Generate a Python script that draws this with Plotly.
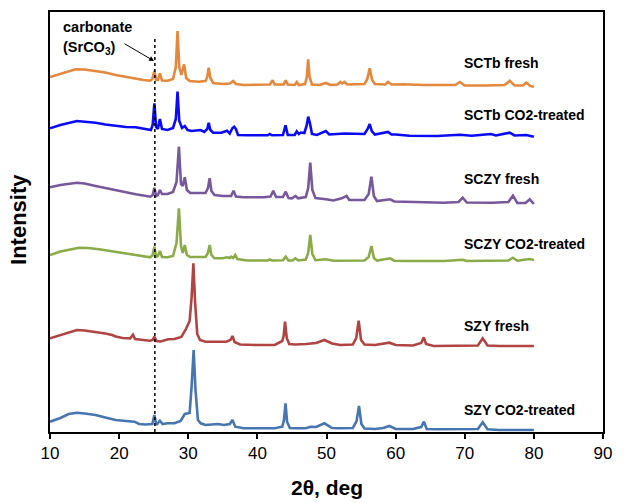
import plotly.graph_objects as go

# ---------------- data (2theta in deg, intensity in arbitrary units above each pattern's baseline) ----
series_names = ["SCTb fresh", "SCTb CO2-treated", "SCZY fresh", "SCZY CO2-treated", "SZY fresh", "SZY CO2-treated"]
series_offsets = [345, 295, 228, 171, 86, 2]
series_colors = ["#E3883C", "#0A0AF5", "#76599A", "#8BAA48", "#B04442", "#4675B0"]

sctb_fresh_2theta = [10.0, 11.5, 13.7, 15.0, 16.6, 18.0, 19.5, 21.0, 22.4, 23.5, 24.5, 24.8, 25.1, 25.35, 25.6, 25.9, 26.2, 27.0, 27.8, 28.2, 28.45, 28.7, 29.0, 29.4, 29.7, 30.2, 31.5, 32.5, 32.75, 32.96, 33.2, 33.6, 35.0, 36.0, 36.5, 36.9, 38.0, 40.0, 41.8, 42.2, 42.5, 43.8, 44.1, 44.4, 45.4, 45.7, 46.0, 46.9, 47.15, 47.35, 47.55, 47.9, 49.0, 49.9, 50.6, 51.6, 52.0, 52.3, 52.6, 53.0, 55.5, 55.9, 56.25, 56.6, 57.0, 58.5, 58.9, 59.4, 61.2, 64.0, 68.6, 69.3, 70.0, 73.0, 75.8, 76.5, 77.2, 78.4, 78.9, 79.5, 80.0]
sctb_fresh_int = [10, 13, 17.7, 17.5, 16.3, 14.5, 12, 10, 8.3, 7, 6.3, 8, 16.3, 7, 7, 13.7, 6.5, 6.3, 8, 20, 56, 20, 12, 22.7, 9, 6, 5.3, 6, 10, 19.3, 9, 4, 3, 3.5, 6, 3, 2, 2, 2.5, 6.7, 2.5, 2.5, 6.7, 2.5, 2, 5, 2, 3, 10, 27.7, 10, 2.5, 2, 4, 2, 2.5, 5, 3.5, 5, 2.5, 3, 8, 18.7, 7, 3, 2.5, 5, 2.5, 2.7, 2, 2, 5, 1.5, 1.5, 2, 6.3, 1.5, 1.5, 4.3, 1, 0.3]

sctb_co2_2theta = [10.0, 11.5, 13.9, 15.0, 16.6, 18.0, 19.5, 21.0, 22.4, 23.5, 24.6, 24.85, 25.1, 25.35, 25.6, 25.9, 26.2, 27.0, 27.8, 28.2, 28.45, 28.7, 29.1, 29.5, 29.9, 30.5, 31.8, 32.3, 32.75, 32.96, 33.2, 33.6, 34.8, 35.6, 36.0, 36.4, 36.65, 36.9, 37.2, 38.5, 41.5, 41.8, 42.1, 43.7, 44.07, 44.4, 45.4, 45.7, 46.0, 46.3, 46.8, 47.15, 47.35, 47.6, 47.9, 48.6, 49.9, 50.4, 52.0, 52.6, 55.5, 55.95, 56.25, 56.55, 57.0, 58.9, 59.4, 60.0, 62.0, 66.0, 69.3, 71.0, 73.8, 74.5, 76.5, 77.2, 78.9, 80.0]
sctb_co2_int = [8.7, 12, 16, 15.5, 14.3, 12.5, 11, 10, 9.7, 8, 7, 12, 33.7, 10, 8, 18, 8, 7, 9, 18, 45.3, 16, 9, 11, 7, 6, 7, 5, 8, 14.3, 7, 4.3, 4.3, 6.3, 3.5, 9, 10.3, 8, 2, 1.7, 1.7, 3, 1.7, 2, 11.7, 2, 2, 5.7, 3, 4.5, 4, 12, 20.3, 14, 3, 2, 6, 2.5, 3, 3.5, 3, 8, 13, 6, 2.5, 5, 2.5, 2.5, 1.2, 1, 2.3, 1.2, 3, 1.5, 4.3, 1.5, 2, 0.3]

sczy_fresh_2theta = [10.0, 11.5, 13.9, 15.0, 16.6, 18.0, 19.5, 21.0, 22.4, 23.5, 24.5, 24.85, 25.1, 25.35, 25.6, 25.9, 26.2, 27.0, 27.8, 28.3, 28.65, 28.95, 29.2, 29.5, 29.8, 30.3, 31.5, 32.5, 32.85, 33.1, 33.35, 33.8, 35.0, 36.2, 36.55, 36.9, 38.0, 41.0, 41.9, 42.3, 42.7, 43.7, 44.1, 44.5, 45.0, 45.5, 45.9, 47.0, 47.35, 47.65, 47.95, 48.4, 49.9, 51.0, 52.2, 52.9, 53.3, 55.5, 56.1, 56.5, 56.85, 57.3, 59.2, 59.8, 61.3, 64.0, 67.0, 69.1, 69.7, 70.3, 74.0, 76.3, 76.97, 77.6, 78.8, 79.4, 79.9, 80.0]
sczy_fresh_int = [16.7, 19, 21.3, 20.5, 18, 16, 13.3, 11.5, 9.7, 8.5, 7.3, 9, 16.3, 8, 9, 14, 10, 10, 12, 22, 57.3, 20, 18, 26.7, 14, 11, 10.7, 11, 16, 25.7, 13, 9, 8, 8, 13.3, 7.5, 6.7, 6.7, 7.5, 13.3, 7, 7, 12.3, 6, 5.7, 8, 5.7, 7, 16, 41.3, 14, 6, 4.7, 3.5, 5.7, 8, 4, 4, 10, 27.3, 8, 3, 4.7, 2.5, 2.3, 1.5, 1.3, 2, 6.3, 1.5, 1.3, 2, 8.3, 1, 1, 4.7, 0, 0]

sczy_co2_2theta = [10.0, 11.5, 14.2, 15.5, 17.1, 18.5, 19.5, 21.0, 22.4, 23.5, 24.5, 24.85, 25.1, 25.35, 25.6, 25.9, 26.2, 27.0, 27.8, 28.3, 28.65, 28.95, 29.2, 29.5, 29.8, 30.3, 31.5, 32.5, 32.85, 33.1, 33.35, 33.8, 35.0, 35.6, 36.0, 36.2, 36.5, 36.8, 37.1, 38.5, 41.5, 41.8, 42.1, 43.7, 44.1, 44.5, 45.1, 45.5, 45.9, 47.0, 47.35, 47.65, 47.95, 48.4, 49.9, 51.0, 55.5, 56.1, 56.5, 56.85, 57.3, 59.2, 59.8, 61.3, 67.0, 69.7, 70.3, 76.3, 76.97, 77.6, 79.4, 80.0]
sczy_co2_int = [6, 9.5, 13.3, 13, 11.7, 10, 8.7, 7.5, 6, 5, 3.7, 6, 14.3, 4.3, 5, 10, 4, 3.7, 5, 18, 52.7, 15, 8, 16, 6, 4, 3.7, 4, 8, 16, 6, 2.7, 2.7, 3.7, 3, 4.3, 3, 6, 2, 0.5, 0.5, 1.5, 0.5, 0.8, 4.3, 0.5, 0.5, 2.7, 0.5, 1.5, 8, 26, 7, 0.8, 1.7, 0.3, 0.5, 4, 15, 3, 0.5, 2.7, 0.3, 0, 0, 1.3, 0, 0.5, 3.3, 0.3, 2, 1]

szy_fresh_2theta = [10.0, 11.5, 13.9, 15.0, 16.6, 18.0, 19.0, 19.5, 20.5, 21.6, 22.0, 22.3, 23.5, 24.5, 24.85, 25.1, 25.4, 26.0, 27.1, 28.0, 29.0, 29.6, 30.2, 30.5, 30.74, 30.98, 31.3, 31.7, 32.5, 34.0, 35.5, 36.1, 36.4, 36.7, 37.5, 40.0, 42.5, 43.6, 43.8, 44.0, 44.25, 44.6, 45.5, 47.0, 48.5, 49.7, 50.8, 52.0, 53.8, 54.3, 54.65, 55.0, 55.5, 57.0, 58.2, 59.1, 60.0, 62.5, 63.7, 64.07, 64.4, 65.5, 71.9, 72.6, 73.3, 75.0, 80.0]
szy_fresh_int = [7.7, 11, 16, 15.5, 14.3, 12.5, 11, 9.5, 8, 7.7, 11.3, 7, 6, 5.3, 6, 9.3, 5, 4.5, 6.7, 7, 9, 16, 25, 50, 82.7, 45, 12, 6, 4.3, 4.3, 4.3, 6, 10, 4, 1.5, 1, 1, 5, 10, 24.3, 8, 2, 1.5, 2, 3, 6, 2.5, 1, 1.5, 8, 25.3, 6, 1.5, 1, 2, 3.3, 1, 0.5, 3, 8.7, 2, 0, 0.5, 7.7, 0.5, 0, 0]

szy_co2_2theta = [10.0, 11.5, 12.7, 13.9, 15.0, 16.6, 18.0, 19.5, 21.0, 22.2, 22.9, 23.8, 24.8, 25.1, 25.4, 25.9, 26.3, 27.0, 28.0, 28.9, 29.5, 30.2, 30.5, 30.78, 31.05, 31.4, 31.8, 32.5, 34.3, 35.2, 36.0, 36.4, 36.8, 38.0, 42.5, 43.6, 43.85, 44.07, 44.3, 44.7, 45.5, 47.0, 47.7, 48.5, 49.7, 50.8, 52.0, 53.8, 54.35, 54.7, 55.05, 55.5, 57.0, 58.2, 59.1, 60.0, 62.5, 63.7, 64.1, 64.5, 66.0, 71.9, 72.6, 73.3, 75.0, 80.0]
szy_co2_int = [8.3, 12, 16, 17.3, 16.5, 15, 12.5, 10, 9, 8.3, 6, 5.5, 6, 15, 5, 9.3, 6, 6.7, 6.7, 9, 16, 17, 45, 80, 40, 10, 6.7, 5, 6, 5, 6, 10, 3.3, 1.7, 1.7, 3.3, 10, 26.7, 8, 2, 1.7, 1.7, 3.3, 3, 6.7, 2, 1.7, 2, 9, 24, 6, 1.5, 1, 2, 4, 1, 1, 3, 8.3, 1, 0.7, 1, 7.7, 0.7, 0, 0]

series_2theta = [sctb_fresh_2theta, sctb_co2_2theta, sczy_fresh_2theta, sczy_co2_2theta, szy_fresh_2theta, szy_co2_2theta]
series_int = [sctb_fresh_int, sctb_co2_int, sczy_fresh_int, sczy_co2_int, szy_fresh_int, szy_co2_int]

x_ticks = [10, 20, 30, 40, 50, 60, 70, 80, 90]
carbonate_2theta = 25.17

# ---------------- figure ----------------
FONT = "Liberation Sans, Arial, sans-serif"
fig = go.Figure()
for name, xs, ys, off, col in zip(series_names, series_2theta, series_int, series_offsets, series_colors):
    fig.add_trace(go.Scatter(
        x=xs, y=[v + off for v in ys], mode="lines", name=name,
        line=dict(color=col, width=2.6), showlegend=False, hoverinfo="skip"))

label_font = dict(family=FONT, size=14, color="black")
label_y = [368.7, 317, 253, 188, 106, 22]
for name, ly in zip(series_names, label_y):
    fig.add_annotation(x=69.6, y=ly, xref="x", yref="y", text="<b>%s</b>" % name,
                       showarrow=False, xanchor="left", yanchor="middle", font=label_font)

fig.add_annotation(x=11.6, y=405.5, xref="x", yref="y", text="<b>carbonate</b>",
                   showarrow=False, xanchor="left", yanchor="middle",
                   font=dict(family=FONT, size=14.5, color="black"))
fig.add_annotation(x=11.6, y=384, xref="x", yref="y", text="<b>(SrCO<sub>3</sub>)</b>",
                   showarrow=False, xanchor="left", yanchor="middle",
                   font=dict(family=FONT, size=14.5, color="black"))
fig.add_annotation(x=25.06, y=371, ax=20.35, ay=390, xref="x", yref="y", axref="x", ayref="y",
                   text=" ", showarrow=True, arrowhead=2, arrowsize=1, arrowwidth=1, arrowcolor="black")

# axis titles
fig.add_annotation(x=0.5, y=-0.133, xref="paper", yref="paper", text="<b>2θ, deg</b>",
                   showarrow=False, xanchor="center", yanchor="middle",
                   font=dict(family=FONT, size=21, color="black"))
fig.add_annotation(x=-0.056, y=0.505, xref="paper", yref="paper", text="<b>Intensity</b>",
                   showarrow=False, xanchor="center", yanchor="middle", textangle=-90,
                   font=dict(family=FONT, size=22, color="black"))

fig.add_shape(type="line", x0=carbonate_2theta, x1=carbonate_2theta, y0=0, y1=394,
              xref="x", yref="y", line=dict(color="black", width=1.5, dash="dot"))

fig.update_layout(
    width=628, height=503,
    margin=dict(l=50, r=25, t=12, b=71, autoexpand=False),
    paper_bgcolor="white", plot_bgcolor="white",
    font=dict(family=FONT, color="black"),
    xaxis=dict(range=[10, 90], tickvals=x_ticks, ticktext=[str(t) for t in x_ticks],
               showgrid=False, zeroline=False, showline=True, mirror=True, automargin=False,
               linecolor="black", linewidth=1.5, ticks="outside", ticklen=5, tickwidth=1.5,
               tickcolor="black", tickfont=dict(size=17)),
    yaxis=dict(range=[0, 420], showgrid=False, zeroline=False, showline=True, mirror=True,
               automargin=False, linecolor="black", linewidth=1.5, showticklabels=False, ticks=""),
)

fig.write_html("out.html")
